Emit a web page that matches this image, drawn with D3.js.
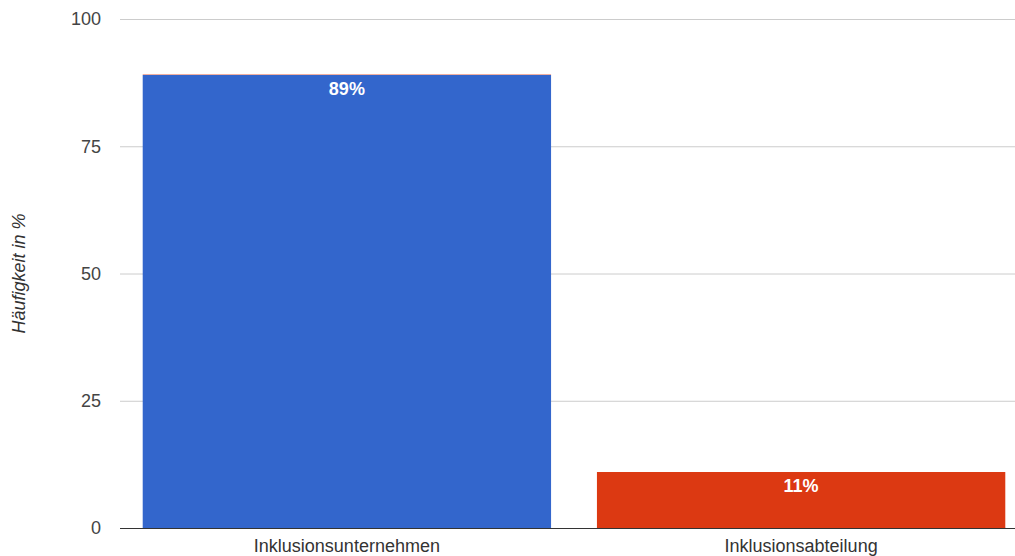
<!DOCTYPE html>
<html>
<head>
<meta charset="utf-8">
<script src="https://cdn.jsdelivr.net/npm/d3@7"></script>
<style>
  html, body { margin: 0; padding: 0; background: #fff; }
  svg { display: block; font-family: "Liberation Sans", Arial, sans-serif; }
</style>
</head>
<body>
<svg id="chart" width="1015" height="556"></svg>
<script>
// Categories and stacked series (percent)
const categories = ["Inklusionsunternehmen", "Inklusionsabteilung"];
const seriesNames = ["Inklusionsunternehmen", "Inklusionsabteilung"];
const seriesUnternehmen = [89, 0];
const seriesAbteilung = [0, 11];
const seriesColors = ["#3366cc", "#dc3912"];
const yTicks = [0, 25, 50, 75, 100];
const yTitle = "Häufigkeit in %";

const rows = categories.map((c, i) => ({
  category: c,
  [seriesNames[0]]: seriesUnternehmen[i],
  [seriesNames[1]]: seriesAbteilung[i]
}));
const stacked = d3.stack().keys(seriesNames)(rows);

const svg = d3.select("#chart");
const plotLeft = 120, plotRight = 1028, plotTop = 19, plotBottom = 528;

const x = d3.scaleBand().domain(categories).range([plotLeft, plotRight])
  .paddingInner(0.101).paddingOuter(0.05);
const y = d3.scaleLinear().domain([0, 100]).range([plotBottom, plotTop]);

// Gridlines
svg.append("g").selectAll("line").data(yTicks.filter(t => t !== 0)).join("line")
  .attr("x1", plotLeft).attr("x2", plotRight)
  .attr("y1", d => y(d) + 0.5).attr("y2", d => y(d) + 0.5)
  .attr("stroke", "#cccccc").attr("stroke-width", 1);

// Y tick labels
svg.append("g").selectAll("text").data(yTicks).join("text")
  .attr("x", 101).attr("y", d => y(d))
  .attr("dy", "0.36em").attr("text-anchor", "end")
  .attr("font-size", 18).attr("fill", "#444")
  .text(d => d);

// Bars (stacked segments); empty segments show as a faint 1px edge
stacked.forEach((layer, si) => {
  svg.append("g").selectAll("rect").data(layer).join("rect")
    .attr("x", d => x(d.data.category))
    .attr("width", x.bandwidth())
    .attr("y", d => y(d[1]) - (d[1] === d[0] ? 1 : 0))
    .attr("height", d => Math.max(1, y(d[0]) - y(d[1])))
    .attr("fill", seriesColors[si])
    .attr("fill-opacity", d => d[1] === d[0] ? 0.4 : 1);
});

// Baseline
svg.append("line")
  .attr("x1", plotLeft).attr("x2", plotRight)
  .attr("y1", y(0) + 0.5).attr("y2", y(0) + 0.5)
  .attr("stroke", "#333").attr("stroke-width", 1.2);

// Value labels
stacked.forEach(layer => {
  svg.append("g").selectAll("text").data(layer.filter(d => d[1] > d[0])).join("text")
    .attr("x", d => x(d.data.category) + x.bandwidth() / 2)
    .attr("y", d => y(d[1]) + 20)
    .attr("text-anchor", "middle")
    .attr("font-size", 18).attr("font-weight", "bold")
    .attr("fill", "#ffffff")
    .text(d => (d[1] - d[0]) + "%");
});

// Category labels
svg.append("g").selectAll("text").data(categories).join("text")
  .attr("x", d => x(d) + x.bandwidth() / 2)
  .attr("y", 552)
  .attr("text-anchor", "middle")
  .attr("font-size", 18).attr("fill", "#333")
  .text(d => d);

// Y axis title
svg.append("text")
  .attr("transform", `translate(25, ${(plotTop + plotBottom) / 2}) rotate(-90)`)
  .attr("text-anchor", "middle")
  .attr("font-size", 18).attr("font-style", "italic").attr("fill", "#333")
  .text(yTitle);
</script>
</body>
</html>
